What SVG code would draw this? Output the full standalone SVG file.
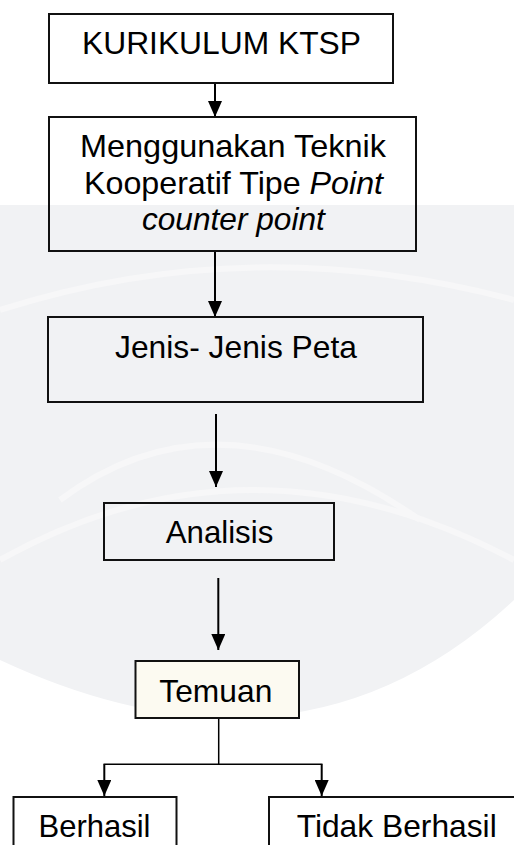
<svg xmlns="http://www.w3.org/2000/svg" width="514" height="845" viewBox="0 0 514 845">
<style>
.box{fill:none;stroke:#111;stroke-width:2}
.t{font-family:"Liberation Sans",Arial,sans-serif;font-size:32px;fill:#000;text-anchor:middle}
.c{fill:none;stroke:#000;stroke-width:2}
.c2{fill:none;stroke:#000;stroke-width:1.5}
.arc{fill:none;stroke:#f7f7f8;stroke-width:6}
</style>
<defs>
<marker id="ah" markerUnits="userSpaceOnUse" markerWidth="16" markerHeight="14" refX="16" refY="7" orient="auto"><path d="M0,0 L16,7 L0,14 Z" fill="#000"/></marker>
</defs>
<g id="background">
<rect x="0" y="0" width="514" height="845" fill="#ffffff"/>
<path d="M0,205 H514 V600 Q300,800 0,660 Z" fill="#f1f2f4"/>
<path class="arc" d="M0,310 Q250,230 514,300"/>
<path class="arc" d="M0,560 Q250,420 514,560"/>
<path class="arc" d="M60,500 Q220,380 420,520"/>
</g>
<g id="connectors">
<line class="c" x1="215" y1="83" x2="215" y2="117" marker-end="url(#ah)"/>
<line class="c" x1="215" y1="251" x2="215" y2="317" marker-end="url(#ah)"/>
<line class="c" x1="216" y1="414" x2="216" y2="487" marker-end="url(#ah)"/>
<line class="c" x1="218.3" y1="578" x2="218.3" y2="650" marker-end="url(#ah)"/>
<path class="c2" d="M218.7,718 V764.3 M103.5,764.3 H322.5"/>
<line class="c" x1="104.3" y1="764.3" x2="104.3" y2="796" marker-end="url(#ah)"/>
<line class="c" x1="321.7" y1="764.3" x2="321.7" y2="796" marker-end="url(#ah)"/>
</g>
<g id="node-kurikulum">
<rect class="box" x="49" y="14" width="344" height="69"/>
<text class="t" x="221.5" y="54" textLength="279" lengthAdjust="spacingAndGlyphs">KURIKULUM KTSP</text>
</g>
<g id="node-teknik">
<rect class="box" x="49" y="117" width="367" height="134"/>
<text class="t" x="233" y="157" textLength="306" lengthAdjust="spacingAndGlyphs">Menggunakan Teknik</text>
<text class="t" x="233.5" y="193.5" textLength="299" lengthAdjust="spacingAndGlyphs">Kooperatif Tipe <tspan font-style="italic">Point</tspan></text>
<text class="t" x="233.4" y="230" font-style="italic" textLength="183" lengthAdjust="spacingAndGlyphs">counter point</text>
</g>
<g id="node-jenis">
<rect class="box" x="48" y="317" width="375" height="85"/>
<text class="t" x="236" y="358" textLength="242" lengthAdjust="spacingAndGlyphs">Jenis- Jenis Peta</text>
</g>
<g id="node-analisis">
<rect class="box" x="104" y="503" width="230" height="57"/>
<text class="t" x="219.5" y="542.7" textLength="107.6" lengthAdjust="spacingAndGlyphs">Analisis</text>
</g>
<g id="node-temuan">
<rect class="box" x="135.5" y="661" width="163.5" height="57" style="fill:#fcfaf1"/>
<text class="t" x="215.8" y="701.7" textLength="113" lengthAdjust="spacingAndGlyphs">Temuan</text>
</g>
<g id="node-berhasil">
<rect class="box" x="13.5" y="797" width="163" height="60"/>
<text class="t" x="94.5" y="836.7" textLength="112" lengthAdjust="spacingAndGlyphs">Berhasil</text>
</g>
<g id="node-tidak">
<rect class="box" x="269" y="797" width="260" height="60"/>
<text class="t" x="396.7" y="836.7" textLength="200" lengthAdjust="spacingAndGlyphs">Tidak Berhasil</text>
</g>
</svg>
